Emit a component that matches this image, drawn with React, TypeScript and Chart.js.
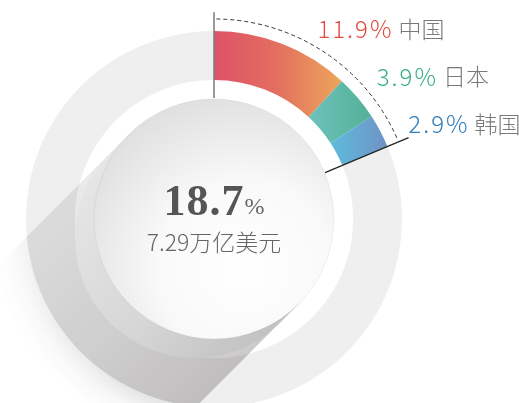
import { useEffect, useRef } from "react";
import { Chart, registerables } from "chart.js";

Chart.register(...registerables);

// ---- data ----
const categories = ["中国", "日本", "韩国"];
const shares = [11.9, 3.9, 2.9];
const totalValueLabel = "7.29万亿美元";

// ---- styles ----
const valueColors = ["#e2493f", "#3aae8c", "#2f7dbd"];
const nameColor = "#7a7a7a";
const ringColor = "#efefef";
const segmentGradients = [
  ["#df5068", "#e3705f", "#eda65a"],
  ["#6fc1bc", "#52b196"],
  ["#5dbcdc", "#7092c5"],
];

const remainder = Math.max(0, 100 - shares.reduce((a, b) => a + b, 0));
const CUTOUT = 0.74;

function geometry(chart: any) {
  const a = chart.chartArea;
  const cx = (a.left + a.right) / 2;
  const cy = (a.top + a.bottom) / 2;
  const R = Math.min(a.right - a.left, a.bottom - a.top) / 2;
  return { cx, cy, R };
}

const decorPlugin = {
  id: "decor",
  afterDatasetsDraw(chart: any) {
    const ctx: CanvasRenderingContext2D = chart.ctx;
    const meta = chart.getDatasetMeta(0);
    const { cx, cy, R } = geometry(chart);
    const diskR = R * 0.638;
    const s = Math.SQRT1_2;
    const ux = -s, uy = s; // shadow direction (down-left)
    const T1 = { x: cx - diskR * s, y: cy - diskR * s };
    const T2 = { x: cx + diskR * s, y: cy + diskR * s };

    // ---- long shadow (offscreen) ----
    const off = document.createElement("canvas");
    off.width = chart.width;
    off.height = chart.height;
    const o = off.getContext("2d")!;
    const L = R * 1.8;
    const pg = o.createLinearGradient(T1.x, T1.y, T2.x, T2.y);
    pg.addColorStop(0, "rgba(70,62,62,0.11)");
    pg.addColorStop(0.5, "rgba(70,62,62,0.18)");
    pg.addColorStop(1, "rgba(70,62,62,0.28)");
    o.fillStyle = pg;
    o.beginPath();
    o.moveTo(T1.x, T1.y);
    o.lineTo(T1.x + L * ux, T1.y + L * uy);
    o.lineTo(T2.x + L * ux, T2.y + L * uy);
    o.lineTo(T2.x, T2.y);
    o.closePath();
    o.fill();
    o.globalCompositeOperation = "destination-in";
    const outer = R * 1.2;
    const rg = o.createRadialGradient(cx, cy, 0, cx, cy, outer);
    const k = R / outer;
    rg.addColorStop(0, "rgba(0,0,0,1)");
    rg.addColorStop(k, "rgba(0,0,0,1)");
    rg.addColorStop(Math.min(1, k + 0.003), "rgba(0,0,0,0.55)");
    rg.addColorStop(Math.min(1, k + 0.07), "rgba(0,0,0,0.2)");
    rg.addColorStop(1, "rgba(0,0,0,0)");
    o.fillStyle = rg;
    o.fillRect(0, 0, off.width, off.height);
    ctx.save();
    ctx.setTransform(1, 0, 0, 1, 0, 0);
    ctx.drawImage(off, 0, 0);
    ctx.restore();

    // ---- cylinder side ----
    const d = R * 0.143;
    ctx.save();
    const cg = ctx.createLinearGradient(T1.x, T1.y, T2.x, T2.y);
    cg.addColorStop(0, "#e6e6e6");
    cg.addColorStop(0.6, "#d6d6d6");
    cg.addColorStop(1, "#c2c2c2");
    ctx.fillStyle = cg;
    ctx.beginPath();
    ctx.moveTo(T1.x, T1.y);
    ctx.lineTo(T1.x + d * ux, T1.y + d * uy);
    ctx.lineTo(T2.x + d * ux, T2.y + d * uy);
    ctx.lineTo(T2.x, T2.y);
    ctx.closePath();
    ctx.fill();
    ctx.beginPath();
    ctx.arc(cx + d * ux, cy + d * uy, diskR, 0, Math.PI * 2);
    ctx.fill();
    ctx.restore();

    // ---- top disk ----
    ctx.save();
    const gx = cx + diskR * 0.25, gy = cy + diskR * 0.4;
    const dg = ctx.createRadialGradient(gx, gy, 0, gx, gy, diskR * 1.45);
    dg.addColorStop(0, "#ffffff");
    dg.addColorStop(0.5, "#f9f9f9");
    dg.addColorStop(1, "#e0e0e0");
    ctx.fillStyle = dg;
    ctx.beginPath();
    ctx.arc(cx, cy, diskR, 0, Math.PI * 2);
    ctx.fill();
    ctx.strokeStyle = "rgba(0,0,0,0.05)";
    ctx.lineWidth = 1;
    ctx.stroke();
    ctx.restore();

    // ---- leader lines & dashed arc ----
    const first = meta.data[0];
    const last = meta.data[categories.length - 1];
    const aStart = first.startAngle;
    const aEnd = last.endAngle;
    ctx.save();
    ctx.strokeStyle = "#7a7a7a";
    ctx.lineWidth = 1.5;
    ctx.beginPath();
    ctx.moveTo(cx + Math.cos(aStart) * R * 0.644, cy + Math.sin(aStart) * R * 0.644);
    ctx.lineTo(cx + Math.cos(aStart) * R * 1.1, cy + Math.sin(aStart) * R * 1.1);
    ctx.stroke();
    ctx.strokeStyle = "#222";
    ctx.lineWidth = 1.2;
    ctx.beginPath();
    ctx.moveTo(cx + Math.cos(aEnd) * R * 0.64, cy + Math.sin(aEnd) * R * 0.64);
    ctx.lineTo(cx + Math.cos(aEnd) * R * 1.122, cy + Math.sin(aEnd) * R * 1.122);
    ctx.stroke();
    ctx.strokeStyle = "#333";
    ctx.lineWidth = 1;
    ctx.setLineDash([4, 3]);
    ctx.beginPath();
    ctx.arc(cx, cy, R * 1.064, aStart + 0.012, aEnd - 0.01);
    ctx.stroke();
    ctx.restore();

    // ---- center text ----
    const total = shares.reduce((a, b) => a + b, 0);
    ctx.save();
    ctx.textBaseline = "alphabetic";
    ctx.textAlign = "left";
    const bigFont = "bold 44px 'Liberation Serif', 'DejaVu Serif', serif";
    const pctFont = "24px 'Liberation Serif', 'DejaVu Serif', serif";
    const big = total.toFixed(1);
    ctx.font = bigFont;
    (ctx as any).letterSpacing = "1px";
    const wBig = ctx.measureText(big).width;
    ctx.font = pctFont;
    (ctx as any).letterSpacing = "0px";
    const wPct = ctx.measureText("%").width;
    const startX = cx - (wBig + wPct) / 2;
    const baseY = cy - 4;
    ctx.fillStyle = "#555";
    ctx.font = bigFont;
    (ctx as any).letterSpacing = "1px";
    ctx.fillText(big, startX, baseY);
    ctx.font = pctFont;
    (ctx as any).letterSpacing = "0px";
    ctx.fillStyle = "#666";
    ctx.fillText("%", startX + wBig, baseY - 1);
    ctx.font = "300 23px 'Noto Sans CJK SC', 'Noto Sans', sans-serif";
    ctx.textAlign = "center";
    ctx.textBaseline = "middle";
    ctx.fillStyle = "#666";
    ctx.fillText(totalValueLabel, cx, cy + 23);
    ctx.restore();

    // ---- side labels ----
    ctx.save();
    ctx.textBaseline = "middle";
    ctx.textAlign = "left";
    const valueFont = "300 24px 'Noto Sans CJK SC', 'Noto Sans', sans-serif";
    const nameFont = "300 23px 'Noto Sans CJK SC', 'Noto Sans', sans-serif";
    const rL = R * 1.15;
    categories.forEach((name, i) => {
      const dy = -R * 1.01 + i * R * 0.253;
      const dx = Math.sqrt(Math.max(0, rL * rL - dy * dy));
      const x = cx + dx;
      const y = cy + dy;
      const v = shares[i].toFixed(1) + "%";
      ctx.font = valueFont;
      (ctx as any).letterSpacing = "2px";
      ctx.fillStyle = valueColors[i];
      ctx.fillText(v, x, y);
      const w = ctx.measureText(v).width;
      (ctx as any).letterSpacing = "0px";
      ctx.font = nameFont;
      ctx.fillStyle = nameColor;
      ctx.fillText(name, x + w + 5, y);
    });
    ctx.restore();
  },
};

export default function App() {
  const ref = useRef<HTMLCanvasElement>(null);
  useEffect(() => {
    document.body.style.margin = "0";
    const canvas = ref.current!;
    const cumulative: number[] = [];
    shares.reduce((acc, v) => {
      cumulative.push(acc);
      return acc + v;
    }, 0);
    const chart = new Chart(canvas, {
      type: "doughnut",
      data: {
        labels: [...categories, "其他"],
        datasets: [
          {
            data: [...shares, remainder],
            borderWidth: 0,
            backgroundColor: (c: any) => {
              const i = c.dataIndex;
              if (i >= categories.length) return ringColor;
              const stops = segmentGradients[i];
              const chartRef = c.chart;
              if (!chartRef.chartArea) return stops[0];
              const { cx, R } = geometry(chartRef);
              const r = R * CUTOUT;
              const a0 = (cumulative[i] / 100) * Math.PI * 2;
              const a1 = ((cumulative[i] + shares[i]) / 100) * Math.PI * 2;
              const x0 = cx + r * Math.sin(a0);
              const x1 = cx + R * Math.sin(a1);
              const g = chartRef.ctx.createLinearGradient(x0, 0, x1, 0);
              stops.forEach((col: string, k: number) => g.addColorStop(k / (stops.length - 1), col));
              return g;
            },
          },
        ],
      },
      options: {
        responsive: false,
        animation: false,
        events: [],
        cutout: CUTOUT * 100 + "%",
        layout: { padding: { left: 26, right: 117, top: 31, bottom: 3 } },
        plugins: { legend: { display: false }, tooltip: { enabled: false } },
      },
      plugins: [decorPlugin],
    });
    return () => chart.destroy();
  }, []);
  return (
    <div style={{ width: 519, height: 403, overflow: "hidden", position: "relative", background: "#fff" }}>
      <canvas ref={ref} width={519} height={410} style={{ display: "block" }} />
    </div>
  );
}
